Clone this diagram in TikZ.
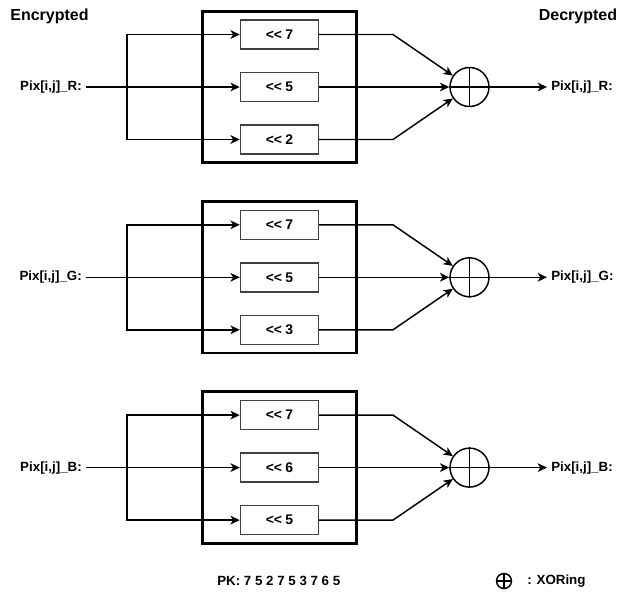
\documentclass[tikz,border=0pt]{standalone}
\usepackage{fontspec}
\setmainfont{Liberation Sans}
\usetikzlibrary{arrows.meta,calc}
\begin{document}
\begin{tikzpicture}[x=0.75pt,y=-0.75pt,
  font=\bfseries,
  arr/.style={line width=1.1pt,-{Stealth[length=7pt,width=6.5pt,inset=2pt]}},
  ln/.style={line width=1.1pt},
  bigbox/.style={draw,line width=2.2pt,minimum width=115pt,minimum height=113.5pt,inner sep=0pt},
  shiftbox/.style={draw=black!75,line width=1.1pt,fill=white,minimum width=58.5pt,minimum height=21.75pt,inner sep=0pt,font=\bfseries\fontsize{10.5}{12}\selectfont},
  xorc/.style={draw,circle,line width=1.1pt,minimum size=29.25pt,inner sep=0pt},
  lbl/.style={inner sep=3pt,font=\bfseries\fontsize{10}{12}\selectfont},
  title/.style={inner sep=0pt,font=\bfseries\fontsize{12}{14}\selectfont}]
\useasboundingbox (0,0) rectangle (622,594);

\node[title] (enc) at (49.5,16) {Encrypted};
\node[title] (dec) at (578,16) {Decrypted};

\foreach \g/\ym/\c/\sa/\sb/\sc in {R/87/R/7/5/2, G/277.3/G/7/5/3, B/467.6/B/7/6/5}{
  \node[bigbox] (box\g) at (279.5,\ym) {};
  \node[shiftbox] (s1\g) at (279.5,\ym-52.5) {<{}<\kern-0.5pt{} \sa};
  \node[shiftbox] (s2\g) at (279.5,\ym) {<{}<\kern-0.5pt{} \sb};
  \node[shiftbox] (s3\g) at (279.5,\ym+52.5) {<{}<\kern-0.5pt{} \sc};
  \node[lbl,anchor=east] (in\g) at (86,\ym) {Pix[i,j]\_\c:};
  \node[xorc] (x\g) at (469.5,\ym) {};
  \draw[ln] (x\g.north) -- (x\g.south) (x\g.west) -- (x\g.east);
  \node[lbl,anchor=west] (out\g) at (547,\ym) {Pix[i,j]\_\c:};
  \coordinate (sp\g) at (127,\ym);
  \coordinate (ka\g) at (393,\ym-52.5);
  \coordinate (kc\g) at (393,\ym+52.5);
  \draw[arr] (in\g.east) -- (s2\g.west);
  \draw[arr] (sp\g) |- (s1\g.west);
  \draw[arr] (sp\g) |- (s3\g.west);
  \draw[arr] (s1\g.east) -- (ka\g) -- (x\g);
  \draw[arr] (s2\g.east) -- (x\g.west);
  \draw[arr] (s3\g.east) -- (kc\g) -- (x\g);
  \draw[arr] (x\g.east) -- (out\g.west);
}

\node[lbl,anchor=west,inner sep=0pt] (pk) at (217,581) {PK: 7 5 2 7 5 3 7 6 5};
\node[draw,circle,line width=1.1pt,minimum size=11.25pt,inner sep=0pt] (lx) at (504,581) {};
\draw[ln] (lx.north) -- (lx.south) (lx.west) -- (lx.east);
\node[lbl,anchor=west,inner sep=0pt] (lt) at (527,581) {: XORing};
\end{tikzpicture}
\end{document}
